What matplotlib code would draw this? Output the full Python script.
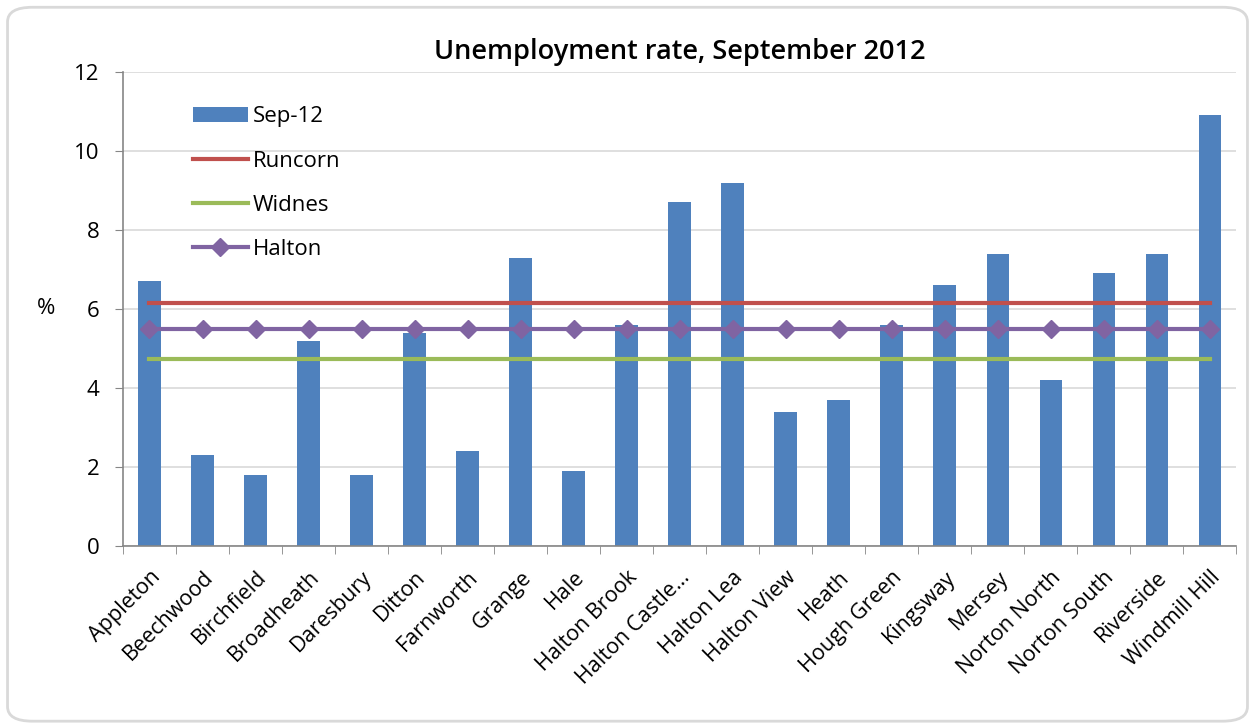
import numpy as np
import matplotlib.pyplot as plt
from matplotlib.patches import FancyBboxPatch

plt.rcParams['font.family'] = ['Open Sans', 'DejaVu Sans']

# Ward names and values
wards = ['Appleton', 'Beechwood', 'Birchfield', 'Broadheath', 'Daresbury',
         'Ditton', 'Farnworth', 'Grange', 'Hale', 'Halton Brook',
         'Halton Castle…', 'Halton Lea', 'Halton View', 'Heath', 'Hough Green',
         'Kingsway', 'Mersey', 'Norton North', 'Norton South', 'Riverside',
         'Windmill Hill']
sep12 = [6.7, 2.3, 1.8, 5.2, 1.8, 5.4, 2.4, 7.3, 1.9, 5.6,
         8.7, 9.2, 3.4, 3.7, 5.6, 6.6, 7.4, 4.2, 6.9, 7.4, 10.9]
runcorn = 6.15
widnes = 4.74
halton = 5.5

yticks = [0, 2, 4, 6, 8, 10, 12]

fig = plt.figure(figsize=(12.55, 7.27), dpi=100)
ax = fig.add_axes([0.098, 0.249, 0.887, 0.652])

# outer rounded frame
frame = FancyBboxPatch((0.006, 0.008), 0.988, 0.982,
                       boxstyle='round,pad=0,rounding_size=0.02',
                       transform=fig.transFigure, facecolor='white',
                       edgecolor='#d9d9d9', linewidth=2, zorder=-10)
fig.patches.append(frame)

x = np.arange(len(wards))
bars = ax.bar(x, sep12, width=0.42, color='#4F81BD', label='Sep-12', zorder=2)
l1, = ax.plot(x, [runcorn] * len(x), color='#C0504D', lw=3, label='Runcorn', zorder=3)
l2, = ax.plot(x, [widnes] * len(x), color='#9BBB59', lw=3, label='Widnes', zorder=3)
l3, = ax.plot(x, [halton] * len(x), color='#8064A2', lw=3, marker='D', ms=9,
              label='Halton', zorder=4)

ax.set_xlim(-0.5, len(wards) - 0.5)
ax.set_ylim(0, 12)
ax.set_yticks(yticks)
ax.yaxis.grid(True, color='#d9d9d9', lw=1.2, zorder=0)
ax.set_axisbelow(True)

ax.set_xticks(x)
ax.set_xticklabels(wards, rotation=45, ha='right', rotation_mode='anchor',
                   fontsize=15.5)
ax.tick_params(axis='x', length=0, pad=15)
ax.set_xticks(np.arange(-0.5, len(wards)), minor=True)
ax.tick_params(axis='x', which='minor', length=6, color='#868686')
ax.tick_params(axis='y', length=6, color='#868686', labelsize=16, pad=11)

for s in ['top', 'right']:
    ax.spines[s].set_visible(False)
for s in ['left', 'bottom']:
    ax.spines[s].set_color('#868686')
    ax.spines[s].set_linewidth(1.2)

ax.set_ylabel('%', rotation=0, fontsize=16, labelpad=20, va='center')
ax.set_title('Unemployment rate, September 2012', fontsize=19.5,
             fontweight='semibold', pad=9)

ax.legend([bars, l1, l2, l3], ['Sep-12', 'Runcorn', 'Widnes', 'Halton'],
          loc='upper left', bbox_to_anchor=(0.045, 0.97), frameon=False,
          fontsize=16, handlelength=2.45, labelspacing=1.05, handletextpad=0.25)

fig.savefig('out.png', dpi=100)
